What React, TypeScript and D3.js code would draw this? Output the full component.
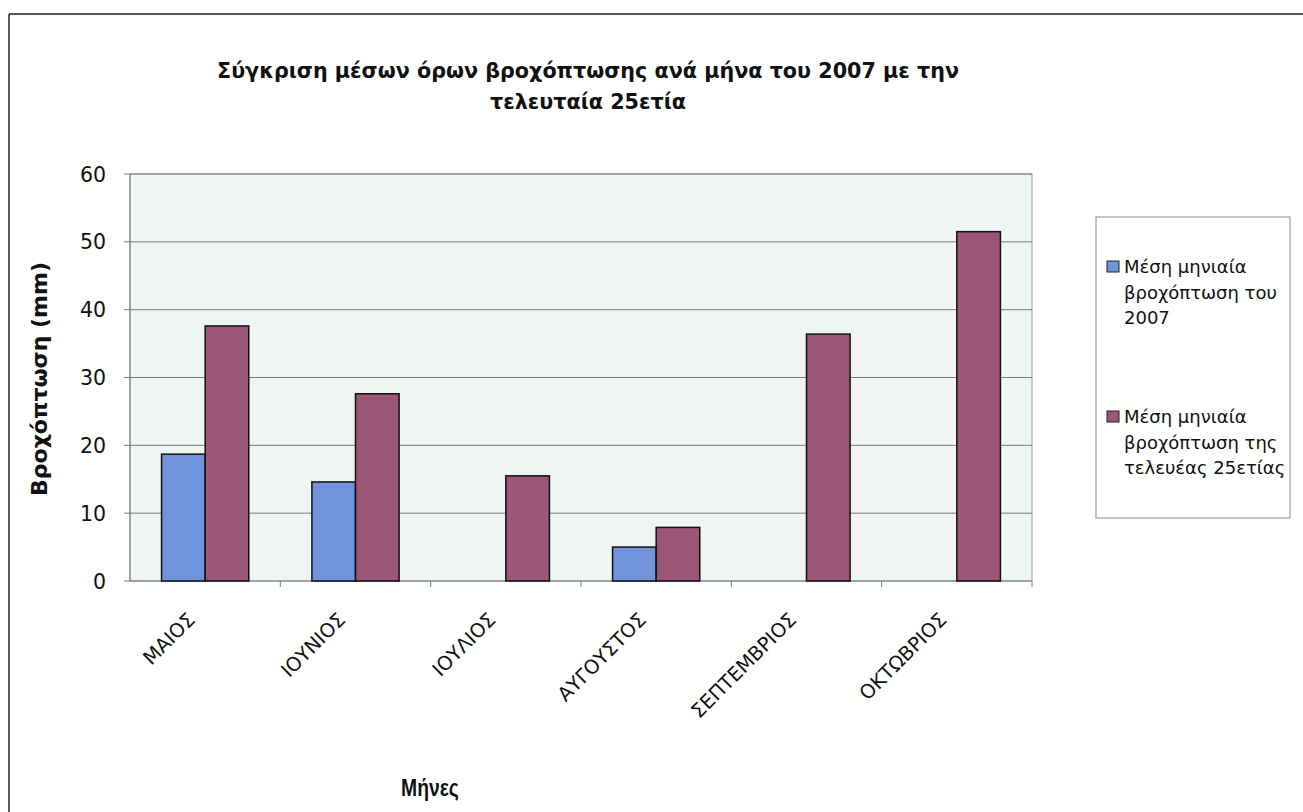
import React from "react";
import * as d3 from "d3";

const months = ["ΜΑΙΟΣ", "ΙΟΥΝΙΟΣ", "ΙΟΥΛΙΟΣ", "ΑΥΓΟΥΣΤΟΣ", "ΣΕΠΤΕΜΒΡΙΟΣ", "ΟΚΤΩΒΡΙΟΣ"];
const rain2007 = [18.7, 14.6, 0, 5.0, 0, 0];
const rain25yr = [37.6, 27.6, 15.5, 7.9, 36.4, 51.5];
const seriesNames = [
  ["Μέση μηνιαία", "βροχόπτωση του", "2007"],
  ["Μέση μηνιαία", "βροχόπτωση της", "τελευέας 25ετίας"],
];
const yTicks = [0, 10, 20, 30, 40, 50, 60];
const titleLines = [
  "Σύγκριση μέσων όρων βροχόπτωσης ανά μήνα του 2007 με την",
  "τελευταία 25ετία",
];

const COLORS = ["#7093dc", "#9b5677"];
const FONT = "'DejaVu Sans', 'Liberation Sans', Arial, sans-serif";
const NARROW = "'Liberation Sans', Arial, sans-serif";

export default function App() {
  const W = 1303, H = 812;
  const left = 130, right = 1032, top = 174, bottom = 581;
  const x0 = d3.scaleBand<string>().domain(months).range([left, right]).paddingInner(0.42).paddingOuter(0.21);
  const x1 = d3.scaleBand<number>().domain([0, 1]).range([0, x0.bandwidth()]);
  const y = d3.scaleLinear().domain([0, 60]).range([bottom, top]);
  const series = [rain2007, rain25yr];
  const step = x0.step();
  const catStart = (i: number) => left + i * step;

  return (
    <svg width={W} height={H} style={{ position: "absolute", left: 0, top: 0, background: "#fff" }}>
      <rect x={0} y={0} width={W} height={H} fill="#fff" />
      {/* outer frame */}
      <line x1={9} y1={14} x2={W} y2={14} stroke="#222" strokeWidth={1.5} />
      <line x1={9} y1={14} x2={9} y2={H} stroke="#222" strokeWidth={1.5} />

      {/* title */}
      {titleLines.map((t, i) => (
        <text key={i} x={588} y={78 + i * 31} textAnchor="middle" fontFamily={FONT} fontWeight="bold" fontSize={20.7} fill="#111">
          {t}
        </text>
      ))}

      {/* plot bg */}
      <rect x={left} y={top} width={right - left} height={bottom - top} fill="#eef5f3" stroke="#9a9a9a" strokeWidth={1} />
      {yTicks.map((t) => (
        <g key={t}>
          {t > 0 && <line x1={left} x2={right} y1={y(t)} y2={y(t)} stroke="#7a7a7a" strokeWidth={1} />}
          <line x1={left - 6} x2={left} y1={y(t)} y2={y(t)} stroke="#7a7a7a" />
          <text x={106} y={y(t) + 7.5} textAnchor="end" fontFamily={FONT} fontSize={20.5} fill="#111">
            {t}
          </text>
        </g>
      ))}
      {/* axes */}
      <line x1={left} x2={left} y1={top} y2={bottom} stroke="#7a7a7a" />
      <line x1={left} x2={right} y1={bottom} y2={bottom} stroke="#7a7a7a" strokeWidth={1.2} />
      {months.map((m, i) => (
        <line key={m} x1={catStart(i + 1)} x2={catStart(i + 1)} y1={bottom} y2={bottom + 6} stroke="#7a7a7a" />
      ))}

      {/* bars */}
      {months.map((m, i) =>
        series.map((s, k) =>
          s[i] > 0 ? (
            <rect
              key={m + k}
              x={(x0(m) as number) + (x1(k) as number)}
              y={y(s[i])}
              width={x1.bandwidth()}
              height={bottom - y(s[i])}
              fill={COLORS[k]}
              stroke="#111"
              strokeWidth={1.5}
            />
          ) : null
        )
      )}

      {/* x labels */}
      {months.map((m) => {
        const cx = (x0(m) as number) + x0.bandwidth() / 2 - 9;
        return (
          <text
            key={m}
            transform={`translate(${cx},${bottom + 40}) rotate(-45)`}
            textAnchor="end"
            fontFamily={FONT}
            fontSize={19.5}
            fill="#111"
          >
            {m}
          </text>
        );
      })}

      {/* axis titles */}
      <text transform={`translate(47,379) rotate(-90)`} textAnchor="middle" fontFamily={FONT} fontWeight="bold" fontSize={22} fill="#111">
        Βροχόπτωση (mm)
      </text>
      <text transform="translate(430,796) scale(0.84,1)" textAnchor="middle" fontFamily={NARROW} fontWeight="bold" fontSize={23} fill="#111">
        Μήνες
      </text>

      {/* legend */}
      <rect x={1096} y={217} width={194} height={301} fill="#fff" stroke="#888" strokeWidth={1} />
      {seriesNames.map((lines, k) => (
        <g key={k}>
          <rect x={1107} y={261 + k * 150} width={12} height={11} fill={COLORS[k]} stroke="#222" strokeWidth={1} />
          {lines.map((l, j) => (
            <text key={j} x={1124} y={273 + k * 150 + j * 25.5} fontFamily={FONT} fontSize={18} fill="#111">
              {l}
            </text>
          ))}
        </g>
      ))}
    </svg>
  );
}
